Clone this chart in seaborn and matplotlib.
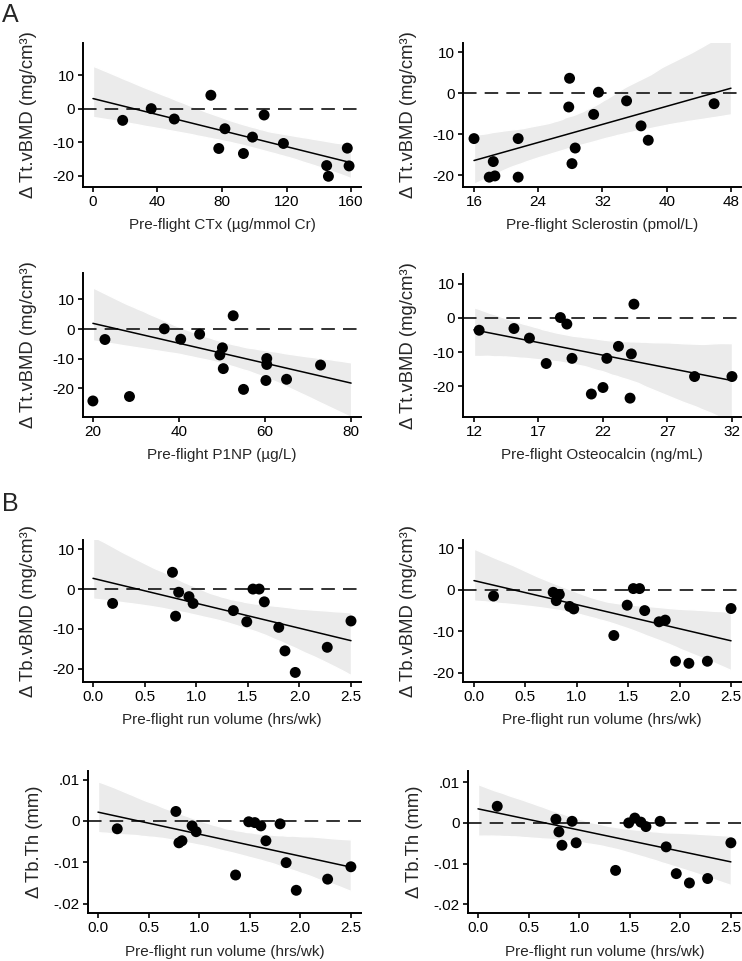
import numpy as np
import matplotlib
matplotlib.use("Agg")
import matplotlib.pyplot as plt
from matplotlib.collections import PolyCollection
import seaborn as sns

# ---- data ----
# A: total vBMD change vs pre-flight bone markers
ctx = [18.4, 36.1, 50.4, 73.1, 78.0, 81.8, 93.3, 98.9, 106.1, 118.1, 144.9, 146.0, 157.7, 158.8]
ctx_tt = [-3.4, 0.1, -3.0, 4.1, -11.8, -5.9, -13.3, -8.4, -1.8, -10.3, -16.9, -20.1, -11.7, -17.0]

sclerostin = [16.0, 27.9, 27.8, 31.5, 30.9, 35.0, 36.8, 37.7, 21.5, 18.4, 17.9, 18.6, 21.5, 28.6, 28.2, 45.9]
scl_tt = [-11.1, 3.6, -3.4, 0.2, -5.2, -1.9, -8.0, -11.5, -11.1, -16.7, -20.5, -20.2, -20.5, -13.4, -17.2, -2.6]

# P1NP: the two low points on the left are shown but not part of the fit
p1np = [22.8, 36.6, 40.4, 44.8, 49.5, 50.1, 50.3, 52.6, 55.0, 60.4, 60.4, 60.2, 65.0, 72.9]
p1np_tt = [-3.5, 0.1, -3.4, -1.7, -8.7, -6.3, -13.3, 4.5, -20.3, -9.9, -11.9, -17.3, -16.9, -12.1]
p1np_out = [20.0, 28.5]
p1np_out_tt = [-24.2, -22.7]

osteocalcin = [12.4, 15.1, 16.3, 17.6, 18.7, 19.2, 19.6, 21.1, 22.0, 22.3, 23.2, 24.2, 24.1, 24.4, 29.1, 32.0]
ocn_tt = [-3.6, -3.1, -5.9, -13.3, 0.1, -1.8, -11.8, -22.2, -20.3, -11.8, -8.3, -10.5, -23.4, 4.0, -17.1, -17.1]

# B: trabecular changes vs pre-flight run volume
run_vol = [0.19, 0.77, 0.80, 0.83, 0.93, 0.97, 1.36, 1.49, 1.55, 1.61, 1.66, 1.80, 1.86, 1.96, 2.09, 2.27, 2.50]
tb_vbmd_1 = [-3.6, 4.2, -6.8, -0.8, -1.9, -3.6, -5.4, -8.2, 0.0, 0.0, -3.2, -9.6, -15.5, -20.9, np.nan, -14.6, -8.0]
tb_vbmd_2 = [-1.5, -0.6, -2.6, -1.1, -4.0, -4.6, -11.0, -3.7, 0.3, 0.3, -5.0, -7.7, -7.3, -17.2, -17.7, -17.2, -4.5]
tb_th_1 = [-0.0019, 0.0023, -0.0053, -0.0048, -0.0012, -0.0026, -0.0131, -0.0002, -0.0004, -0.0012,
           -0.0048, -0.0007, -0.0101, -0.0168, np.nan, -0.0141, -0.0111]
tb_th_2 = [0.0041, 0.0009, -0.0022, -0.0055, 0.0004, -0.0049, -0.0117, 0.0000, 0.0012, 0.0002,
           -0.0009, 0.0004, -0.0059, -0.0125, -0.0148, -0.0137, -0.0049]

# axis labels and ticks
ylab_tt = "Δ Tt.vBMD (mg/cm³)"
ylab_tb = "Δ Tb.vBMD (mg/cm³)"
ylab_th = "Δ Tb.Th (mm)"
xlab_run = "Pre-flight run volume (hrs/wk)"
yticks_bmd = [-20, -10, 0, 10]
yticks_th = [-0.02, -0.01, 0, 0.01]
yticklabels_th = ["-.02", "-.01", "0", ".01"]
xticks_run = [0.0, 0.5, 1.0, 1.5, 2.0, 2.5]

sns.set_style("ticks")
plt.rcParams["font.family"] = ["Liberation Sans", "DejaVu Sans"]
plt.rcParams["axes.unicode_minus"] = False

W, H = 742, 961
fig = plt.figure(figsize=(W / 100, H / 100), dpi=100)

panels = [
    # x, y, xlabel, ylabel, xticks, yticks, fit range, xlim, ylim, box(px: l, t, r, b)
    (ctx, ctx_tt, "Pre-flight CTx (µg/mmol Cr)", ylab_tt, [0, 40, 80, 120, 160], yticks_bmd,
     (0, 160), (-6.2, 166.2), (-23.3, 19.7), (83, 43, 361, 187)),
    (sclerostin, scl_tt, "Pre-flight Sclerostin (pmol/L)", ylab_tt, [16, 24, 32, 40, 48], yticks_bmd,
     (16, 48), (14.63, 49.25), (-22.9, 12.2), (463, 43, 741, 187)),
    (p1np, p1np_tt, "Pre-flight P1NP (µg/L)", ylab_tt, [20, 40, 60, 80], yticks_bmd,
     (20, 80), (17.7, 82.3), (-29.6, 18.9), (83, 273, 361, 417)),
    (osteocalcin, ocn_tt, "Pre-flight Osteocalcin (ng/mL)", ylab_tt, [12, 17, 22, 27, 32], yticks_bmd,
     (12, 32), (11.15, 32.7), (-28.9, 12.8), (463, 274, 741, 417)),
    (run_vol, tb_vbmd_1, xlab_run, ylab_tb, xticks_run, yticks_bmd,
     (0, 2.5), (-0.097, 2.597), (-23.3, 12.3), (83, 540, 361, 682)),
    (run_vol, tb_vbmd_2, xlab_run, ylab_tb, xticks_run, yticks_bmd,
     (0, 2.5), (-0.107, 2.597), (-22.2, 12.0), (463, 540, 741, 682)),
    (run_vol, tb_th_1, xlab_run, ylab_th, xticks_run, yticks_th,
     (0, 2.5), (-0.099, 2.6), (-0.0223, 0.0121), (88, 771, 361, 913)),
    (run_vol, tb_th_2, xlab_run, ylab_th, xticks_run, yticks_th,
     (0, 2.5), (-0.099, 2.6), (-0.0222, 0.0128), (468, 771, 741, 913)),
]

for i, (x, y, xlab, ylab, xt, yt, fit_rng, xlim, ylim, box) in enumerate(panels):
    l, t, r, b = box
    ax = fig.add_axes([l / W, 1 - b / H, (r - l) / W, (b - t) / H])
    # fit line spans fit_rng (truncate=False uses current xlim)
    ax.set_xlim(*fit_rng)
    ax.set_ylim(*ylim)
    sns.regplot(x=np.array(x, dtype=float), y=np.array(y, dtype=float), ax=ax,
                truncate=False, ci=98, n_boot=3000, seed=7, color="black",
                scatter_kws=dict(s=62, edgecolor="none", alpha=1, zorder=4),
                line_kws=dict(lw=1.1, zorder=3))
    if i == 2:
        sns.scatterplot(x=p1np_out, y=p1np_out_tt, ax=ax, color="black", s=62,
                        edgecolor="none", zorder=4, legend=False)
    for coll in ax.collections:
        if isinstance(coll, PolyCollection):
            coll.set_facecolor("#EBEBEB")
            coll.set_alpha(1)
            coll.set_zorder(1)
    ax.axhline(0, color="#222222", lw=1.3, dashes=(7.5, 4.5), zorder=2)
    ax.set_xlim(*xlim)
    ax.set_ylim(*ylim)
    ax.set_xticks(xt)
    ax.set_yticks(yt)
    if yt is yticks_th:
        ax.set_yticklabels(yticklabels_th)
    if xt is xticks_run:
        ax.set_xticklabels([f"{v:.1f}" for v in xt])
    sns.despine(ax=ax)
    for s in ["left", "bottom"]:
        ax.spines[s].set_linewidth(1.4)
        ax.spines[s].set_color("black")
    ax.tick_params(length=3.6, width=1.2, pad=2.5, labelsize=11, colors="black")
    ax.set_xlabel(xlab, fontsize=11)
    ax.set_ylabel(ylab, fontsize=13.3)
    ax.yaxis.set_label_coords(-0.165, 0.5)
    ax.xaxis.set_label_coords(0.5, -0.215 if b < 900 else -0.225)
    ax.xaxis.label.set_va("top")

fig.text(2 / W, 1 - 3 / H, "A", fontsize=18, ha="left", va="top")
fig.text(2 / W, 1 - 492 / H, "B", fontsize=18, ha="left", va="top")

fig.savefig("out.png", dpi=100)
